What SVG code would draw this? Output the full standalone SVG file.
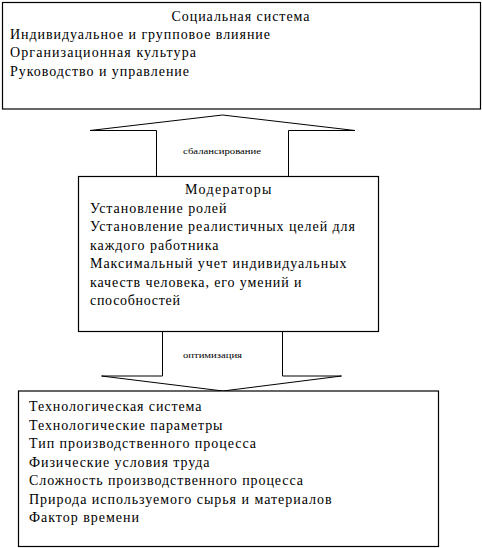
<svg xmlns="http://www.w3.org/2000/svg" width="482" height="548" viewBox="0 0 482 548">
<style>
.box{fill:#fff;stroke:#000;stroke-width:1.2}
.arrow{fill:#fff;stroke:#000;stroke-width:1}
.t{font-family:"Liberation Serif","Times New Roman",serif;font-size:14px;fill:#000}
.s{font-family:"Liberation Serif","Times New Roman",serif;font-size:9px;fill:#000}
</style>
<rect width="482" height="548" fill="#fff"/>
<g id="connectors">
<g id="arrow-up">
<polygon class="arrow" points="156.5,176.5 156.5,130.5 90,130.5 222.5,115 355,130.5 288.5,130.5 288.5,176.5"/>
<text class="s" x="222" y="154" text-anchor="middle" textLength="78" lengthAdjust="spacingAndGlyphs">сбалансирование</text>
</g>
<g id="arrow-down">
<polygon class="arrow" points="162.5,331.5 282.5,331.5 282.5,376 341.5,376 223,391 101.5,376 162.5,376"/>
<text class="s" x="212.5" y="358" text-anchor="middle" textLength="59" lengthAdjust="spacingAndGlyphs">оптимизация</text>
</g>
</g>
<g id="social">
<rect class="box" x="2.5" y="2.5" width="478" height="106.5"/>
<text class="t" x="171.5" y="20.5" textLength="138" lengthAdjust="spacing">Социальная система</text>
<text class="t" x="10" y="38.5" textLength="260" lengthAdjust="spacing">Индивидуальное и групповое влияние</text>
<text class="t" x="10" y="57" textLength="186" lengthAdjust="spacing">Организационная культура</text>
<text class="t" x="10" y="75.5" textLength="179" lengthAdjust="spacing">Руководство и управление</text>
</g>
<g id="moderators">
<rect class="box" x="78.5" y="176.5" width="300" height="155"/>
<text class="t" x="185" y="194" textLength="86.5" lengthAdjust="spacing">Модераторы</text>
<text class="t" x="90" y="212.5" textLength="136.5" lengthAdjust="spacing">Установление ролей</text>
<text class="t" x="90" y="231" textLength="265" lengthAdjust="spacing">Установление реалистичных целей для</text>
<text class="t" x="90" y="249.5" textLength="128.5" lengthAdjust="spacing">каждого работника</text>
<text class="t" x="90" y="268" textLength="256.5" lengthAdjust="spacing">Максимальный учет индивидуальных</text>
<text class="t" x="90" y="286.5" textLength="211.5" lengthAdjust="spacing">качеств человека, его умений и</text>
<text class="t" x="90" y="305" textLength="90" lengthAdjust="spacing">способностей</text>
</g>
<g id="technological">
<rect class="box" x="18.5" y="391" width="420" height="155.5"/>
<text class="t" x="29" y="411" textLength="172.5" lengthAdjust="spacing">Технологическая система</text>
<text class="t" x="29" y="429.5" textLength="193.5" lengthAdjust="spacing">Технологические параметры</text>
<text class="t" x="29" y="448" textLength="227" lengthAdjust="spacing">Тип производственного процесса</text>
<text class="t" x="29" y="466.5" textLength="180.5" lengthAdjust="spacing">Физические условия труда</text>
<text class="t" x="29" y="485" textLength="274" lengthAdjust="spacing">Сложность производственного процесса</text>
<text class="t" x="29" y="503.5" textLength="302.5" lengthAdjust="spacing">Природа используемого сырья и материалов</text>
<text class="t" x="29" y="522" textLength="110" lengthAdjust="spacing">Фактор времени</text>
</g>
</svg>
